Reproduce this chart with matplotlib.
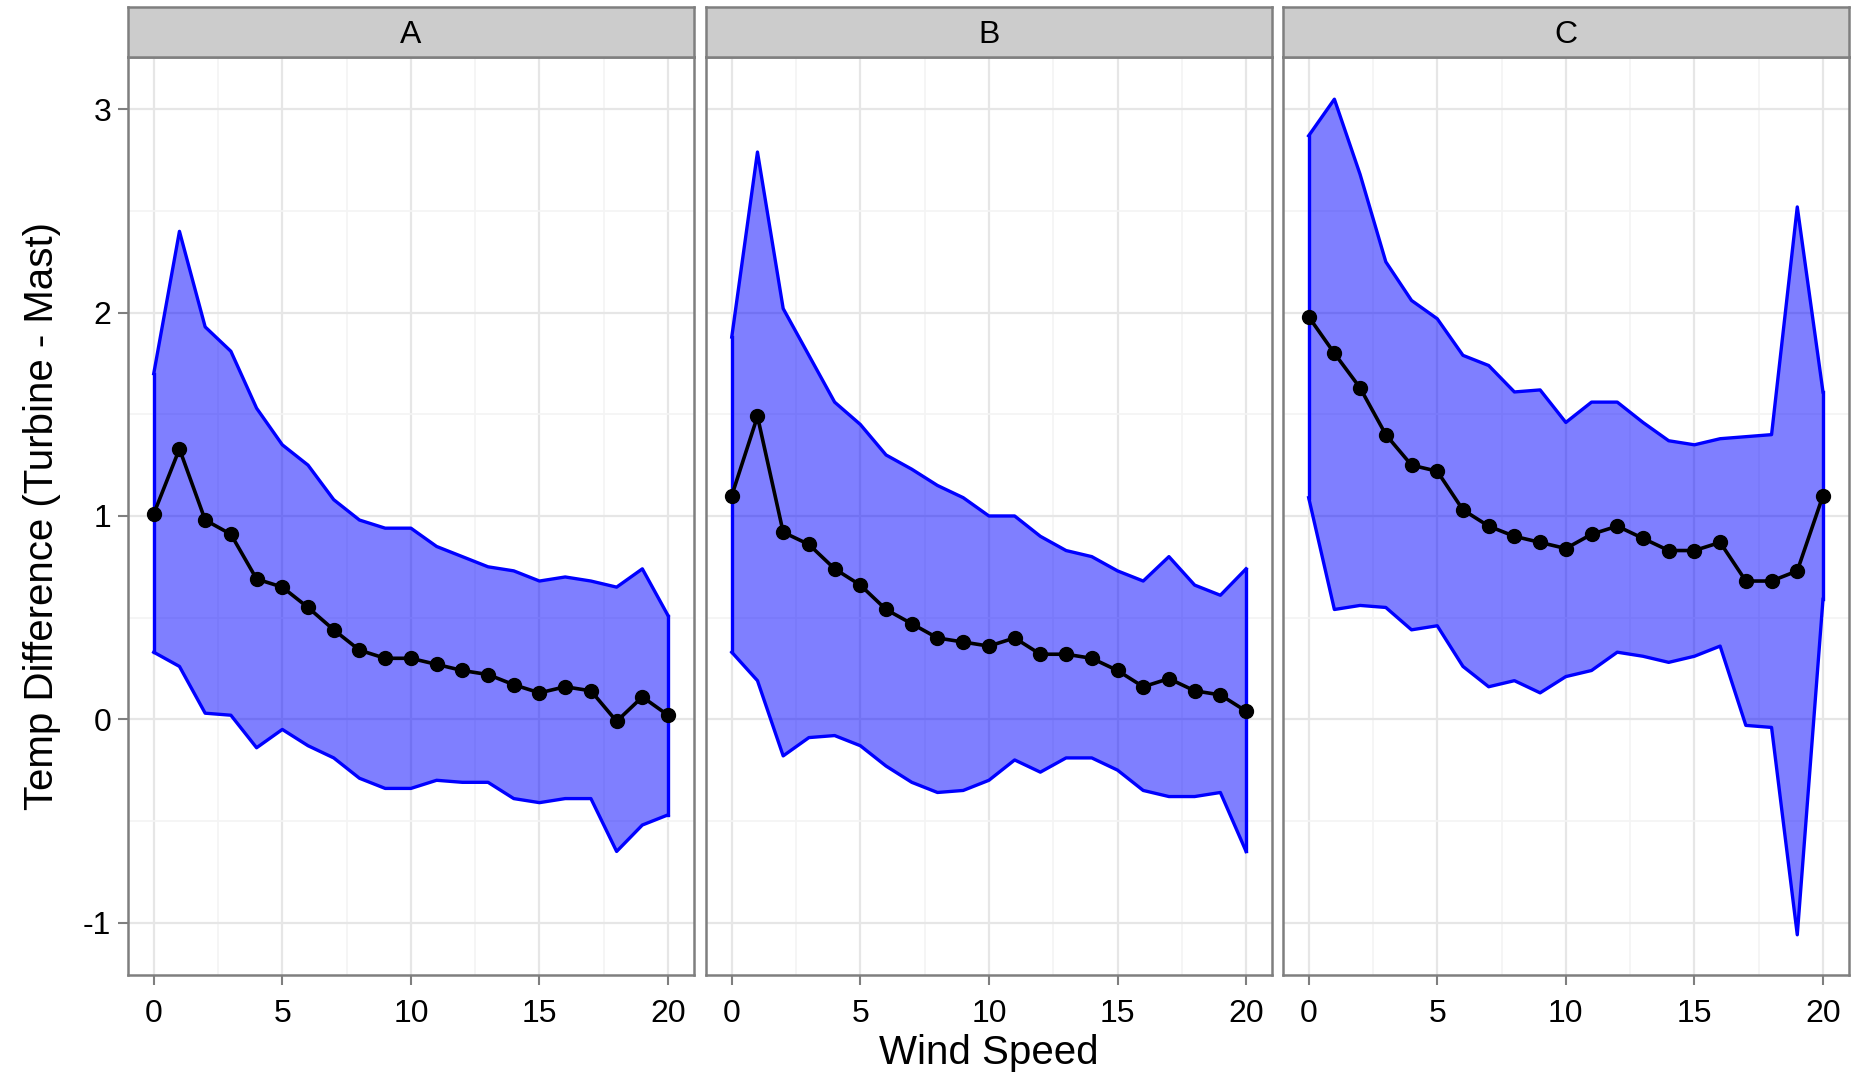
import matplotlib
matplotlib.use('Agg')
import matplotlib.pyplot as plt
import numpy as np

plt.rcParams['font.family'] = ['Liberation Sans', 'DejaVu Sans']
plt.rcParams['axes.unicode_minus'] = False

# Wind speed bins
wind = list(range(21))
panels = ['A', 'B', 'C']

# Mean temperature difference per panel
mean_a = [1.01, 1.33, 0.98, 0.91, 0.69, 0.65, 0.55, 0.44, 0.34, 0.30, 0.30,
          0.27, 0.24, 0.22, 0.17, 0.13, 0.16, 0.14, -0.01, 0.11, 0.02]
mean_b = [1.10, 1.49, 0.92, 0.86, 0.74, 0.66, 0.54, 0.47, 0.40, 0.38, 0.36,
          0.40, 0.32, 0.32, 0.30, 0.24, 0.16, 0.20, 0.14, 0.12, 0.04]
mean_c = [1.98, 1.80, 1.63, 1.40, 1.25, 1.22, 1.03, 0.95, 0.90, 0.87, 0.84,
          0.91, 0.95, 0.89, 0.83, 0.83, 0.87, 0.68, 0.68, 0.73, 1.10]

# Upper bound of the band
upper_a = [1.70, 2.40, 1.93, 1.81, 1.53, 1.35, 1.25, 1.08, 0.98, 0.94, 0.94,
           0.85, 0.80, 0.75, 0.73, 0.68, 0.70, 0.68, 0.65, 0.74, 0.51]
upper_b = [1.88, 2.79, 2.02, 1.79, 1.56, 1.45, 1.30, 1.23, 1.15, 1.09, 1.00,
           1.00, 0.90, 0.83, 0.80, 0.73, 0.68, 0.80, 0.66, 0.61, 0.74]
upper_c = [2.87, 3.05, 2.68, 2.25, 2.06, 1.97, 1.79, 1.74, 1.61, 1.62, 1.46,
           1.56, 1.56, 1.46, 1.37, 1.35, 1.38, 1.39, 1.40, 2.52, 1.61]

# Lower bound of the band
lower_a = [0.33, 0.26, 0.03, 0.02, -0.14, -0.05, -0.13, -0.19, -0.29, -0.34, -0.34,
           -0.30, -0.31, -0.31, -0.39, -0.41, -0.39, -0.39, -0.65, -0.52, -0.47]
lower_b = [0.33, 0.19, -0.18, -0.09, -0.08, -0.13, -0.23, -0.31, -0.36, -0.35, -0.30,
           -0.20, -0.26, -0.19, -0.19, -0.25, -0.35, -0.38, -0.38, -0.36, -0.65]
lower_c = [1.09, 0.54, 0.56, 0.55, 0.44, 0.46, 0.26, 0.16, 0.19, 0.13, 0.21,
           0.24, 0.33, 0.31, 0.28, 0.31, 0.36, -0.03, -0.04, -1.06, 0.59]

means = [mean_a, mean_b, mean_c]
uppers = [upper_a, upper_b, upper_c]
lowers = [lower_a, lower_b, lower_c]

fig = plt.figure(figsize=(18.58, 10.81), dpi=100)

lefts = [0.0689, 0.3800, 0.6905]
width = 0.3045
bottom = 0.098
top = 0.947
strip_h = 0.0465

for i, name in enumerate(panels):
    ax = fig.add_axes([lefts[i], bottom, width, top - bottom])

    ax.fill_between(wind, lowers[i], uppers[i], facecolor='#0000ff', alpha=0.5,
                    linewidth=0, zorder=2)
    ax.plot(wind, uppers[i], color='#0000ff', linewidth=2.4, zorder=3)
    ax.plot(wind, lowers[i], color='#0000ff', linewidth=2.4, zorder=3)
    ax.plot([wind[0], wind[0]], [lowers[i][0], uppers[i][0]], color='#0000ff', linewidth=2.4, zorder=3)
    ax.plot([wind[-1], wind[-1]], [lowers[i][-1], uppers[i][-1]], color='#0000ff', linewidth=2.4, zorder=3)
    ax.plot(wind, means[i], color='black', linewidth=2.6, marker='o', markersize=10, zorder=4)

    ax.set_xlim(-1, 21)
    ax.set_ylim(-1.258, 3.256)
    ax.set_xticks([0, 5, 10, 15, 20])
    ax.set_xticks([2.5, 7.5, 12.5, 17.5], minor=True)
    ax.set_yticks([-1, 0, 1, 2, 3])
    ax.set_yticks([-0.5, 0.5, 1.5, 2.5], minor=True)
    ax.grid(which='major', color='#e6e6e6', linewidth=1.6, zorder=0)
    ax.grid(which='minor', color='#f4f4f4', linewidth=1.2, zorder=0)
    ax.set_axisbelow(True)
    ax.tick_params(which='major', length=7, width=1.5, color='#7f7f7f',
                   labelsize=23, labelcolor='black', pad=5)
    ax.tick_params(axis='x', which='major', pad=10)
    ax.tick_params(which='minor', length=0)
    for s in ax.spines.values():
        s.set_color('#7f7f7f')
        s.set_linewidth(1.8)
    if i > 0:
        ax.tick_params(axis='y', which='major', length=0, labelleft=False)
    else:
        ax.set_ylabel('Temp Difference (Turbine - Mast)', fontsize=29, labelpad=16)
    if i == 1:
        ax.set_xlabel('Wind Speed', fontsize=29, labelpad=4)

    # facet strip
    sax = fig.add_axes([lefts[i], top, width, strip_h])
    sax.set_facecolor('#cccccc')
    sax.set_xticks([])
    sax.set_yticks([])
    for s in sax.spines.values():
        s.set_color('#7f7f7f')
        s.set_linewidth(1.8)
    sax.text(0.5, 0.45, name, ha='center', va='center', fontsize=23, transform=sax.transAxes)

fig.savefig('out.png', dpi=100)
